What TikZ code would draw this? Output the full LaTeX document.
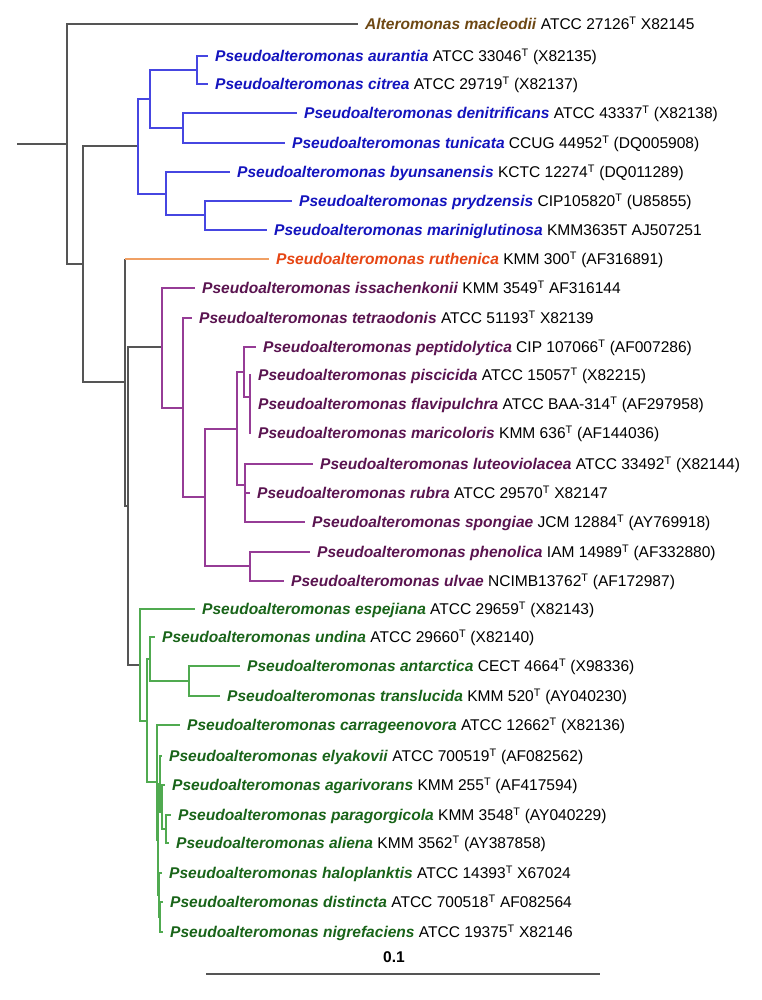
\documentclass[tikz,border=0pt]{standalone}
\usepackage{fontspec}
\setmainfont{Liberation Sans}
\usepackage{xcolor}

\definecolor{taxbrown}{RGB}{110,72,20}
\definecolor{taxblue}{RGB}{20,20,190}
\definecolor{lineblue}{RGB}{70,70,225}
\definecolor{taxorange}{RGB}{230,70,20}
\definecolor{lineorange}{RGB}{240,160,100}
\definecolor{taxpurple}{RGB}{90,20,80}
\definecolor{linepurple}{RGB}{150,60,150}
\definecolor{taxgreen}{RGB}{25,100,25}
\definecolor{linegreen}{RGB}{80,170,80}
\definecolor{linegray}{RGB}{85,85,85}

\newcommand{\typeT}{\textsuperscript{T}}
\newcommand{\pname}[2]{\textcolor{#1}{\textbf{\textit{Pseudoalteromonas #2}}}}

\tikzset{
  lbl/.style={anchor=base west,inner sep=0pt,xshift=7bp,yshift=-5.5bp,
    font=\fontsize{15.6}{18}\selectfont},
  backbone/.style={draw=linegray,line width=1.2bp},
  bluebr/.style={draw=lineblue,line width=1.2bp},
  orangebr/.style={draw=lineorange,line width=1.2bp},
  purplebr/.style={draw=linepurple,line width=1.2bp},
  greenbr/.style={draw=linegreen,line width=1.2bp},
  scalebar/.style={draw=linegray,line width=2bp}
}

\begin{document}
\begin{tikzpicture}[x=1bp,y=-1bp]
		\useasboundingbox[fill=white] (0,0) rectangle (762,1000);
		% tips
		\coordinate (mac) at (358,24);
		\coordinate (aur) at (208,56);
		\coordinate (cit) at (208,84);
		\coordinate (den) at (297,113);
		\coordinate (tun) at (285,143);
		\coordinate (byu) at (230,172);
		\coordinate (pry) at (292,201);
		\coordinate (mar) at (267,230);
		\coordinate (rut) at (269,259);
		\coordinate (iss) at (195,288);
		\coordinate (tet) at (192,318);
		\coordinate (pep) at (256,347);
		\coordinate (pis) at (251,375);
		\coordinate (fla) at (251,404);
		\coordinate (mcl) at (251,433);
		\coordinate (lut) at (313,464);
		\coordinate (rub) at (250,493);
		\coordinate (spo) at (305,522);
		\coordinate (phe) at (310,552);
		\coordinate (ulv) at (284,581);
		\coordinate (esp) at (195,609);
		\coordinate (und) at (155,637);
		\coordinate (ant) at (240,666);
		\coordinate (tra) at (220,696);
		\coordinate (car) at (180,725);
		\coordinate (ely) at (162,756);
		\coordinate (aga) at (165,785);
		\coordinate (par) at (171,815);
		\coordinate (ali) at (169,843);
		\coordinate (hal) at (162,873);
		\coordinate (dis) at (163,902);
		\coordinate (nig) at (163,932);
		% inner nodes
		\coordinate (base) at (17,144);
		\coordinate (R0) at (67,144);
		\coordinate (A1) at (83,264);
		\coordinate (A2) at (125,382);
		\coordinate (A3) at (128,506);
		\coordinate (B1) at (197,70);
		\coordinate (B2) at (183,128);
		\coordinate (B3) at (150,99);
		\coordinate (B4) at (205,215);
		\coordinate (B5) at (166,194);
		\coordinate (B6) at (138,146);
		\coordinate (P1) at (162,347);
		\coordinate (P2) at (183,408);
		\coordinate (P3) at (205,497);
		\coordinate (P4) at (237,429);
		\coordinate (P5) at (250,566);
		\coordinate (P6) at (244,372);
		\coordinate (P7) at (245,485);
		\coordinate (P8) at (250,397);
		\coordinate (G1) at (140,665);
		\coordinate (G2) at (147,721);
		\coordinate (G3) at (150,659);
		\coordinate (G4) at (157,782);
		\coordinate (G5) at (189,681);
		\coordinate (G6) at (158,840);
		\coordinate (G7) at (160,784);
		\coordinate (G8) at (159,895);
		\coordinate (G9) at (162,812);
		\coordinate (G10) at (166,829);
		\coordinate (G11) at (160,917);
		% branches
		\draw[backbone] (base) -- (R0) (R0) |- (mac) (R0) |- (A1)
			(A1) |- (B6) (A1) |- (A2) (A2) |- (A3)
			(A3) |- (P1) (A3) |- (G1) (A2) -- (A2 |- rut);
		\draw[orangebr] (A2 |- rut) -- (rut);
		\draw[bluebr] (B6) |- (B3) (B6) |- (B5) (B3) |- (B1) (B3) |- (B2)
			(B1) |- (aur) (B1) |- (cit) (B2) |- (den) (B2) |- (tun)
			(B5) |- (byu) (B5) |- (B4) (B4) |- (pry) (B4) |- (mar);
		\draw[purplebr] (P1) |- (iss) (P1) |- (P2) (P2) |- (tet) (P2) |- (P3)
			(P3) |- (P4) (P3) |- (P5) (P4) |- (P6) (P4) |- (P7)
			(P6) |- (pep) (P6) |- (P8) (P8) |- (pis) (P8) |- (fla) (P8) |- (mcl)
			(P7) |- (lut) (P7) |- (rub) (P7) |- (spo)
			(P5) |- (phe) (P5) |- (ulv);
		\draw[greenbr] (G1) |- (esp) (G1) |- (G2) (G2) |- (G3) (G2) |- (G4)
			(G3) |- (und) (G3) |- (G5) (G5) |- (ant) (G5) |- (tra)
			(G4) |- (car) (G4) |- (G6) (G6) |- (G7) (G6) |- (G8)
			(G7) |- (ely) (G7) |- (G9) (G9) |- (aga) (G9) |- (G10)
			(G10) |- (par) (G10) |- (ali)
			(G8) |- (hal) (G8) |- (G11) (G11) |- (dis) (G11) |- (nig);
		% labels
		\node[lbl] (macL) at (mac) {\textcolor{taxbrown}{\textbf{\textit{Alteromonas macleodii}}} ATCC 27126\typeT{} X82145};
		\node[lbl] (aurL) at (aur) {\pname{taxblue}{aurantia} ATCC 33046\typeT{} (X82135)};
		\node[lbl] (citL) at (cit) {\pname{taxblue}{citrea} ATCC 29719\typeT{} (X82137)};
		\node[lbl] (denL) at (den) {\pname{taxblue}{denitrificans} ATCC 43337\typeT{} (X82138)};
		\node[lbl] (tunL) at (tun) {\pname{taxblue}{tunicata} CCUG 44952\typeT{} (DQ005908)};
		\node[lbl] (byuL) at (byu) {\pname{taxblue}{byunsanensis} KCTC 12274\typeT{} (DQ011289)};
		\node[lbl] (pryL) at (pry) {\pname{taxblue}{prydzensis} CIP105820\typeT{} (U85855)};
		\node[lbl] (marL) at (mar) {\pname{taxblue}{mariniglutinosa} KMM3635T AJ507251};
		\node[lbl] (rutL) at (rut) {\pname{taxorange}{ruthenica} KMM 300\typeT{} (AF316891)};
		\node[lbl] (issL) at (iss) {\pname{taxpurple}{issachenkonii} KMM 3549\typeT{} AF316144};
		\node[lbl] (tetL) at (tet) {\pname{taxpurple}{tetraodonis} ATCC 51193\typeT{} X82139};
		\node[lbl] (pepL) at (pep) {\pname{taxpurple}{peptidolytica} CIP 107066\typeT{} (AF007286)};
		\node[lbl] (pisL) at (pis) {\pname{taxpurple}{piscicida} ATCC 15057\typeT{} (X82215)};
		\node[lbl] (flaL) at (fla) {\pname{taxpurple}{flavipulchra} ATCC BAA-314\typeT{} (AF297958)};
		\node[lbl] (mclL) at (mcl) {\pname{taxpurple}{maricoloris} KMM 636\typeT{} (AF144036)};
		\node[lbl] (lutL) at (lut) {\pname{taxpurple}{luteoviolacea} ATCC 33492\typeT{} (X82144)};
		\node[lbl] (rubL) at (rub) {\pname{taxpurple}{rubra} ATCC 29570\typeT{} X82147};
		\node[lbl] (spoL) at (spo) {\pname{taxpurple}{spongiae} JCM 12884\typeT{} (AY769918)};
		\node[lbl] (pheL) at (phe) {\pname{taxpurple}{phenolica} IAM 14989\typeT{} (AF332880)};
		\node[lbl] (ulvL) at (ulv) {\pname{taxpurple}{ulvae} NCIMB13762\typeT{} (AF172987)};
		\node[lbl] (espL) at (esp) {\pname{taxgreen}{espejiana} ATCC 29659\typeT{} (X82143)};
		\node[lbl] (undL) at (und) {\pname{taxgreen}{undina} ATCC 29660\typeT{} (X82140)};
		\node[lbl] (antL) at (ant) {\pname{taxgreen}{antarctica} CECT 4664\typeT{} (X98336)};
		\node[lbl] (traL) at (tra) {\pname{taxgreen}{translucida} KMM 520\typeT{} (AY040230)};
		\node[lbl] (carL) at (car) {\pname{taxgreen}{carrageenovora} ATCC 12662\typeT{} (X82136)};
		\node[lbl] (elyL) at (ely) {\pname{taxgreen}{elyakovii} ATCC 700519\typeT{} (AF082562)};
		\node[lbl] (agaL) at (aga) {\pname{taxgreen}{agarivorans} KMM 255\typeT{} (AF417594)};
		\node[lbl] (parL) at (par) {\pname{taxgreen}{paragorgicola} KMM 3548\typeT{} (AY040229)};
		\node[lbl] (aliL) at (ali) {\pname{taxgreen}{aliena} KMM 3562\typeT{} (AY387858)};
		\node[lbl] (halL) at (hal) {\pname{taxgreen}{haloplanktis} ATCC 14393\typeT{} X67024};
		\node[lbl] (disL) at (dis) {\pname{taxgreen}{distincta} ATCC 700518\typeT{} AF082564};
		\node[lbl] (nigL) at (nig) {\pname{taxgreen}{nigrefaciens} ATCC 19375\typeT{} X82146};
		% scale
		\coordinate (sbL) at (206,974);
		\coordinate (sbR) at (600,974);
		\draw[scalebar] (sbL) -- (sbR);
		\node[font=\fontsize{15.6}{18}\selectfont\bfseries,inner sep=0pt] (sbT) at (394,957) {0.1};
		\end{tikzpicture}
\end{document}
